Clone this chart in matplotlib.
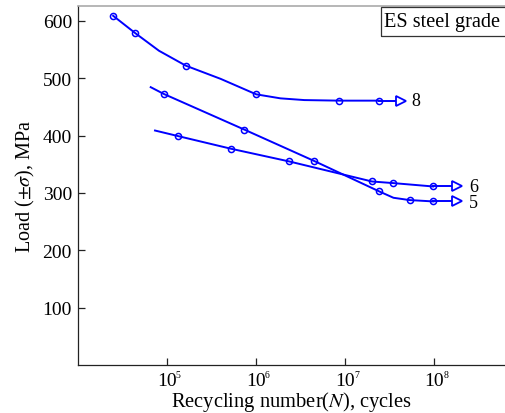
import numpy as np
from matplotlib import pyplot as plt
from matplotlib.patches import Rectangle
from matplotlib.ticker import FixedLocator, NullLocator

plt.rcParams['font.family'] = ['Liberation Serif', 'DejaVu Serif']
plt.rcParams['mathtext.fontset'] = 'stix'

# grade 8: curve points and measured points
n8_line = [2.51e4, 4.42e4, 8.2e4, 1.64e5, 4.03e5, 1.01e6, 1.89e6, 3.5e6, 8.65e6, 2.38e7]
s8_line = [609, 579, 548, 522, 499, 472, 465, 462, 461, 461]
n8_pts = [2.51e4, 4.42e4, 1.64e5, 1.01e6, 8.65e6, 2.38e7]
s8_pts = [609, 579, 522, 472, 461, 461]

# grade 5
n5_line = [6.62e4, 9.25e4, 7.41e5, 4.47e6, 2.43e7, 3.5e7, 5.3e7, 9.84e7]
s5_line = [484.5, 472.8, 410.6, 356.1, 302.6, 291.6, 287.6, 285.2]
n5_pts = [9.25e4, 7.41e5, 4.47e6, 2.43e7, 5.3e7, 9.84e7]
s5_pts = [472.8, 410.6, 356.1, 302.6, 287.6, 285.2]

# grade 6
n6_line = [7.4e4, 1.35e5, 5.31e5, 2.38e6, 2.01e7, 3.48e7, 9.77e7]
s6_line = [408.9, 399.1, 377.0, 354.9, 320.0, 317.2, 311.3]
n6_pts = [1.35e5, 5.31e5, 2.38e6, 2.01e7, 3.48e7, 9.77e7]
s6_pts = [399.1, 377.0, 354.9, 320.0, 317.2, 311.3]

# run-out arrows and labels
arrow_n = [4.3e7, 1.8e8, 1.8e8]
arrow_s = [461, 285.2, 311.3]
label_n = [5.6e7, 2.47e8, 2.47e8]
label_s = [461, 284, 312]
labels = ['8', '5', '6']

xticks = [1e5, 1e6, 1e7, 1e8]
xexp = ['5', '6', '7', '8']
yticks = [100, 200, 300, 400, 500, 600]

blue = '#0000ff'

fig = plt.figure(figsize=(5.05, 4.14), dpi=100)
ax = fig.add_axes([0.1535, 0.116, 0.8465, 0.867])

series = [(n8_line, s8_line, n8_pts, s8_pts),
          (n5_line, s5_line, n5_pts, s5_pts),
          (n6_line, s6_line, n6_pts, s6_pts)]
for i, (nl, sl, npts, spts) in enumerate(series):
    ax.plot(nl, sl, color=blue, lw=1.4, zorder=2)
    ax.plot([nl[-1], arrow_n[i]], [sl[-1], arrow_s[i]], color=blue, lw=1.4, zorder=2)
    ax.plot(npts, spts, 'o', ms=4.4, mfc='none', mec=blue, mew=1.1, zorder=3)
    ax.plot(arrow_n[i], arrow_s[i], '>', ms=7.5, mfc='white', mec=blue, mew=1.3, zorder=4)
    ax.text(label_n[i], label_s[i], labels[i], fontsize=13, ha='left', va='center')

ax.set_xscale('log')
ax.set_xlim(1e4, 10**8.795)
ax.set_ylim(0, 626)
ax.xaxis.set_major_locator(FixedLocator(xticks))
ax.xaxis.set_minor_locator(NullLocator())
ax.set_xticklabels(['10'] * len(xticks))
ax.set_yticks(yticks)

# tiny exponents beside the "10" tick labels
for t, e in zip(xticks, xexp):
    ax.annotate(e, xy=(t, 0), xycoords=('data', 'axes fraction'),
                xytext=(6.5, -3.5), textcoords='offset points',
                fontsize=7, ha='left', va='top', annotation_clip=False)

ax.tick_params(direction='in', length=5, width=0.9, labelsize=14, pad=4,
               top=False, right=False, colors='#222222')
ax.tick_params(axis='x', pad=5)
for lab in ax.get_xticklabels() + ax.get_yticklabels():
    lab.set_color('black')

ax.spines['right'].set_visible(False)
ax.spines['top'].set_color('#aaaaaa')
ax.spines['top'].set_linewidth(1.2)
for s in ['left', 'bottom']:
    ax.spines[s].set_color('#222222')
    ax.spines[s].set_linewidth(0.9)

ax.set_ylabel(r'Load ($\pm\sigma$), MPa', fontsize=14.5, labelpad=4)
ax.set_xlabel(r'Recycling number($N$), cycles', fontsize=14.8, labelpad=0)

ax.add_patch(Rectangle((0.711, 0.9164), 0.30, 0.0806, transform=ax.transAxes,
                       fill=False, ec='#333333', lw=0.9, clip_on=False, zorder=5))
ax.text(0.718, 0.957, 'ES steel grade', transform=ax.transAxes, fontsize=14.6,
        ha='left', va='center')

fig.savefig('out.png', dpi=100)
